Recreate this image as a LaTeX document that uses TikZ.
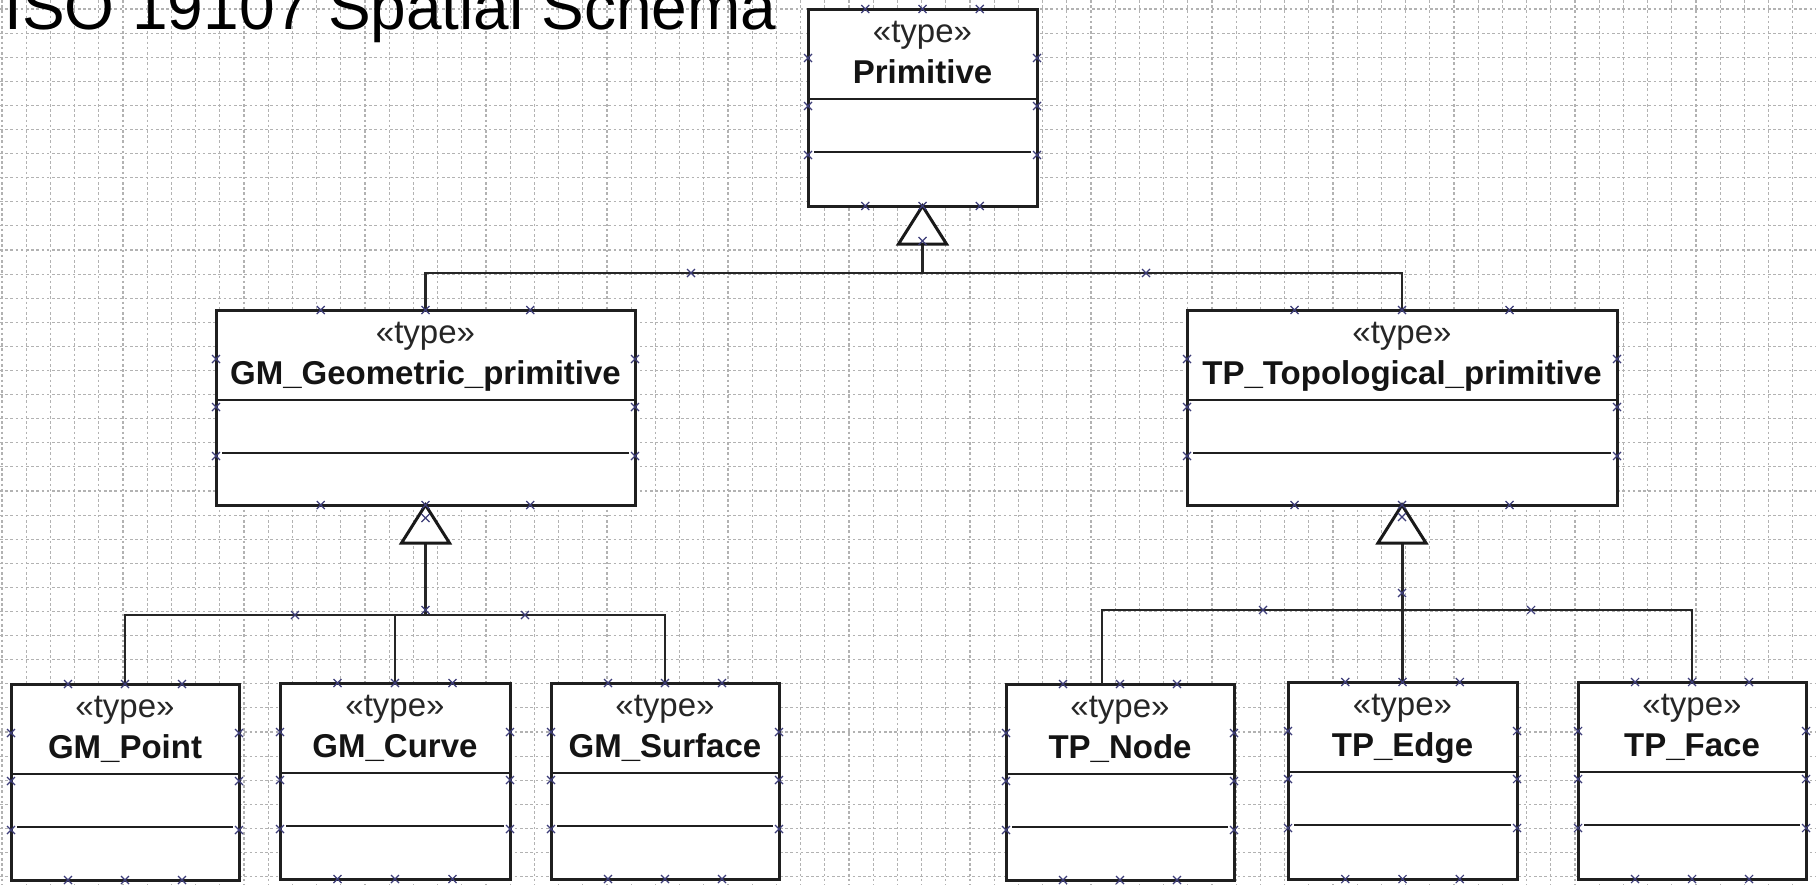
\documentclass[tikz,border=0pt]{standalone}
\usepackage{fontspec}
\setmainfont{Liberation Sans}
\usetikzlibrary{calc,fit}

\tikzset{
  classbox/.style={draw=black!88, line width=1.5pt, fill=white, inner sep=0pt, outer sep=0pt},
  stereo/.style={font=\fontsize{16.5}{18}\selectfont, text=black!85, anchor=base, inner sep=0pt},
  cname/.style={font=\fontsize{16.5}{18}\selectfont\bfseries, text=black!92, anchor=base, inner sep=0pt},
  divider/.style={draw=black!88, line width=1.4pt},
  conn/.style={draw=black!85, line width=1.05pt},
  stemline/.style={draw=black!85, line width=1.5pt},
  gentri/.style={draw=black!90, line width=1.5pt, fill=white, line join=miter},
  gridline/.style={draw=black!30, line width=0.55pt, dash pattern=on 1.3pt off 1.3pt},
  hmark/.style={draw={rgb,255:red,60;green,60;blue,120}, line width=0.55pt},
  hm/.pic={\draw[hmark] (-4,-4) -- (4,4) (-4,4) -- (4,-4);},
}

\newcommand{\umlclass}[6]{%
  \node[classbox, fit={(#2,#3)(#4,#5)}] (#1) {};
  \node[stereo] at ($(#1.north)+(0,33)$) {«type»};
  \node[cname] at ($(#1.north)+(0,74)$) {#6};
  \draw[divider] ($(#1.north west)+(0,90)$) -- ($(#1.north east)+(0,90)$);
  \draw[divider] ($(#1.north west)+(6,143)$) -- ($(#1.north east)+(-6,143)$);
}
\newcommand{\umlmarks}[1]{%
  \pic at ($(#1.north west)!0.25!(#1.north east)$) {hm};
  \pic at (#1.north) {hm};
  \pic at ($(#1.north west)!0.75!(#1.north east)$) {hm};
  \pic at ($(#1.south west)!0.25!(#1.south east)$) {hm};
  \pic at (#1.south) {hm};
  \pic at ($(#1.south west)!0.75!(#1.south east)$) {hm};
  \pic at ($(#1.north west)+(0,49)$) {hm};
  \pic at ($(#1.north west)+(0,97)$) {hm};
  \pic at ($(#1.north west)+(0,146)$) {hm};
  \pic at ($(#1.north east)+(0,49)$) {hm};
  \pic at ($(#1.north east)+(0,97)$) {hm};
  \pic at ($(#1.north east)+(0,146)$) {hm};
}

\begin{document}
\begin{tikzpicture}[x=0.5pt, y=-0.5pt]
  % canvas
  \fill[white] (0,0) rectangle (1816,885);
  \useasboundingbox (0,0) rectangle (1816,885);

  % grid
  \foreach \i in {0,...,75} \draw[gridline] ({2+24.2*\i},0) -- ({2+24.2*\i},885);
  \foreach \j in {0,...,36} \draw[gridline] (0,{9+24.1*\j}) -- (1816,{9+24.1*\j});

  % title
  \node[anchor=base west, inner sep=0pt, font=\fontsize{32}{36}\selectfont] (title) at (4,29) {ISO 19107 Spatial Schema};

  % classes
  \umlclass{prim}{808}{9}{1037}{206}{Primitive}
  \umlclass{gmg}{216}{310}{635}{505}{GM\_Geometric\_primitive}
  \umlclass{tpt}{1187}{310}{1617}{505}{TP\_Topological\_primitive}
  \umlclass{gmp}{11}{684}{239}{880}{GM\_Point}
  \umlclass{gmc}{280}{683}{510}{879}{GM\_Curve}
  \umlclass{gms}{551}{683}{779}{879}{GM\_Surface}
  \umlclass{tpn}{1006}{684}{1234}{880}{TP\_Node}
  \umlclass{tpe}{1288}{682}{1517}{879}{TP\_Edge}
  \umlclass{tpf}{1578}{682}{1806}{879}{TP\_Face}

  % generalisation: Primitive
  \coordinate (pj) at (922.5,273);
  \draw[stemline] ($(prim.south)+(0,38)$) -- (pj);
  \draw[conn] (pj) -| (gmg.north);
  \draw[conn] (pj) -| (tpt.north);
  \draw[gentri] (prim.south) -- ++(-24,38) -- ++(48,0) -- cycle;

  % generalisation: GM_Geometric_primitive
  \coordinate (gj) at (425.5,615);
  \draw[stemline] ($(gmg.south)+(0,38)$) -- (gj);
  \draw[conn] (gj) -| (gmp.north);
  \draw[conn] (gj) -| (gmc.north);
  \draw[conn] (gj) -| (gms.north);
  \draw[gentri] (gmg.south) -- ++(-24,38) -- ++(48,0) -- cycle;

  % generalisation: TP_Topological_primitive
  \coordinate (tj) at (1402,610);
  \coordinate (tpnin) at ($(tpn.north)+(-18,0)$);
  \draw[stemline] ($(tpt.south)+(0,38)$) -- (tj);
  \draw[conn] (tj) -| (tpnin);
  \draw[conn] (tj) -| (tpe.north);
  \draw[conn] (tj) -| (tpf.north);
  \draw[gentri] (tpt.south) -- ++(-24,38) -- ++(48,0) -- cycle;

  % selection handles
  \umlmarks{prim}
  \umlmarks{gmg}
  \umlmarks{tpt}
  \umlmarks{gmp}
  \umlmarks{gmc}
  \umlmarks{gms}
  \umlmarks{tpn}
  \umlmarks{tpe}
  \umlmarks{tpf}
  \pic at (922.5,241) {hm};
  \pic at (691,273) {hm};
  \pic at (1146,273) {hm};
  \pic at (425.5,518) {hm};
  \pic at (425.5,610) {hm};
  \pic at (295,615) {hm};
  \pic at (525,615) {hm};
  \pic at (1402,517) {hm};
  \pic at (1402,593) {hm};
  \pic at (1263,610) {hm};
  \pic at (1531,610) {hm};
\end{tikzpicture}
\end{document}
